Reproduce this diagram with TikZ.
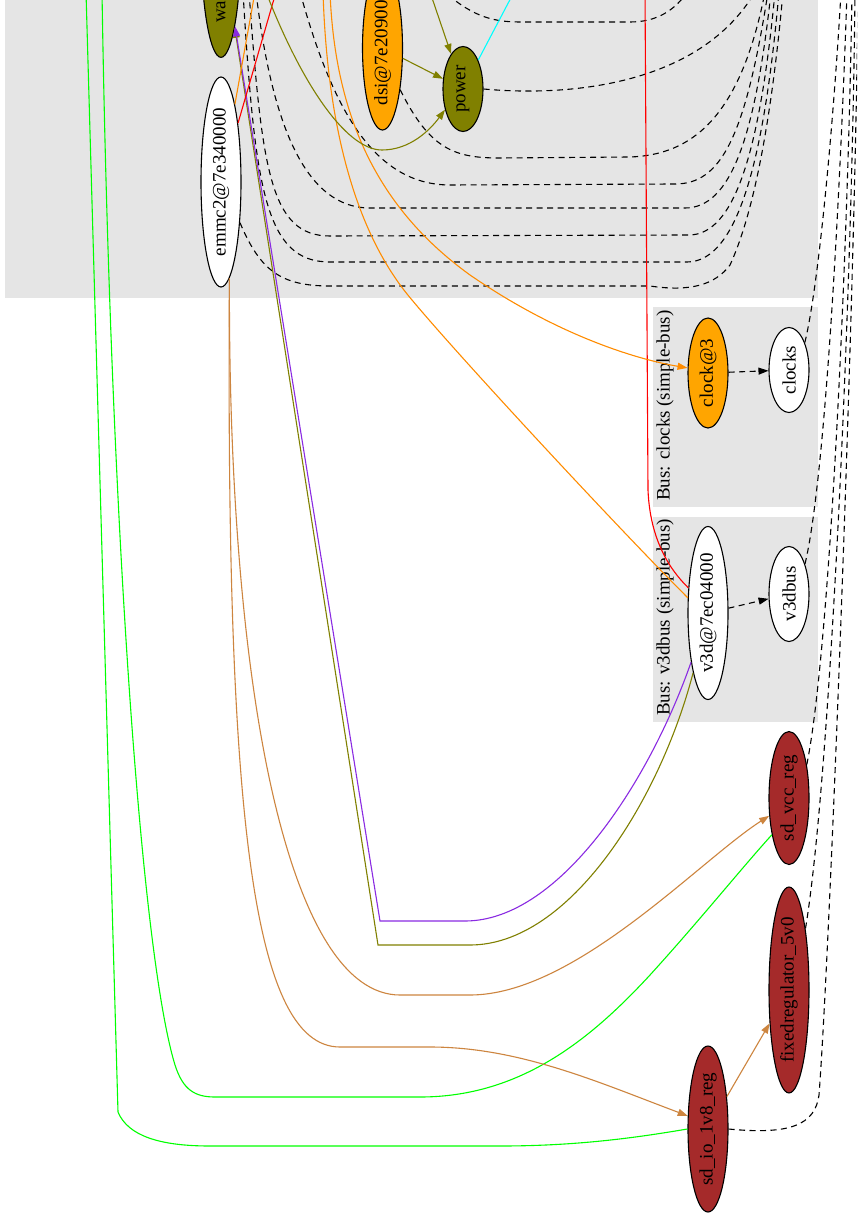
\documentclass[tikz,border=0pt]{standalone}
\usepackage{fontspec}
\setmainfont{Liberation Serif}
\usepackage{graphicx}
\usetikzlibrary{arrows.meta,shapes.geometric}

\definecolor{clusterbg}{HTML}{E5E5E5}
\definecolor{olivefill}{HTML}{808000}
\definecolor{orangefill}{HTML}{FFA500}
\definecolor{regfill}{HTML}{A52A2A}
\definecolor{edgeorange}{HTML}{FF8C00}
\definecolor{edgepurple}{HTML}{8A2BE2}
\definecolor{edgebrown}{HTML}{CD853F}
\definecolor{edgegreen}{HTML}{00FF00}
\definecolor{edgecyan}{HTML}{00FFFF}
\definecolor{edgered}{HTML}{FF0000}

\tikzset{
  dev/.style={ellipse, draw=black, line width=1.1pt, inner sep=0pt,
    minimum width=40pt, font=\fontsize{19pt}{23pt}\selectfont},
  plaindev/.style={dev, fill=white},
  pwrdev/.style={dev, fill=olivefill},
  clkdev/.style={dev, fill=orangefill},
  regdev/.style={dev, fill=regfill},
  buslabel/.style={rotate=90, anchor=west, inner sep=0pt,
    font=\fontsize{19pt}{23pt}\selectfont},
  wire/.style={line width=1.1pt},
  arr/.style={-{Triangle[length=10pt,width=7pt]}},
  busdep/.style={wire, draw=black, dash pattern=on 6pt off 4.5pt},
  eorange/.style={wire, draw=edgeorange},
  epurple/.style={wire, draw=edgepurple},
  ebrown/.style={wire, draw=edgebrown},
  egreen/.style={wire, draw=edgegreen},
  ecyan/.style={wire, draw=edgecyan},
  ered/.style={wire, draw=edgered},
  eolive/.style={wire, draw=olivefill},
}
\newcommand{\vlabel}[1]{\rotatebox{90}{#1}}

\begin{document}
\begin{tikzpicture}[x=1pt,y=-1pt]
\useasboundingbox (0,0) rectangle (857,1214);
\fill[white] (0,0) rectangle (857,1214);
\clip (0,0) rectangle (857,1214);

% bus clusters
\fill[clusterbg] (5,-20) rectangle (818,298);
\fill[clusterbg] (653,307) rectangle (818,507);
\fill[clusterbg] (653,517) rectangle (818,722);
\node[buslabel] (lblclocks) at (665,501) {Bus: clocks (simple-bus)};
\node[buslabel] (lblv3d) at (665,716) {Bus: v3dbus (simple-bus)};

% devices
\node[pwrdev, minimum height=228pt] (wa) at (221,-60) {\vlabel{\makebox[166pt][l]{wa}}};
\node[plaindev, minimum height=210pt] (emmc2) at (221,182) {\vlabel{emmc2@7e340000}};
\node[clkdev, minimum height=164pt] (dsi) at (382.5,48) {\vlabel{dsi@7e209000}};
\node[pwrdev, minimum height=85pt] (power) at (463,89) {\vlabel{power}};
\node[clkdev, minimum height=110pt] (clock3) at (708,373) {\vlabel{clock@3}};
\node[plaindev, minimum height=85pt] (clocks) at (789,370) {\vlabel{clocks}};
\node[plaindev, minimum height=173pt] (v3d) at (708,613) {\vlabel{v3d@7ec04000}};
\node[plaindev, minimum height=95pt] (v3dbus) at (789,594) {\vlabel{v3dbus}};
\node[regdev, minimum height=133pt] (sdvcc) at (789,798) {\vlabel{sd\_vcc\_reg}};
\node[regdev, minimum height=204pt] (fixed) at (789,990) {\vlabel{fixedregulator\_5v0}};
\node[regdev, minimum height=166pt] (sdio) at (708,1129) {\vlabel{sd\_io\_1v8\_reg}};

% far ends of edges leaving the view
\coordinate (g1top) at (86,-8);
\coordinate (g2top) at (102,-8);
\coordinate (redtop) at (276,-8);
\coordinate (orgtop) at (255,-8);
\coordinate (olvtop) at (266,-8);
\coordinate (olv2top) at (430,-8);
\coordinate (cyantop) at (514,-8);
\coordinate (otopA) at (330,-8);
\coordinate (otopB) at (323,-8);
\coordinate (rtop) at (645,-8);
\coordinate (d1a) at (440,-12);
\coordinate (d1b) at (690,-12);
\coordinate (d2b) at (755,-8);
\coordinate (d3b) at (765,-8);
\coordinate (d4a) at (300,-8);
\coordinate (d4b) at (768,-8);
\coordinate (d5a) at (256,-8);
\coordinate (d5b) at (771,-8);
\coordinate (d6a) at (249,-8);
\coordinate (d6b) at (775,-8);
\coordinate (d7a) at (243,-8);
\coordinate (d7b) at (779,-8);
\coordinate (d8b) at (783,-8);
\coordinate (r1) at (841,-8);
\coordinate (r2) at (847,-8);
\coordinate (r3) at (852,-8);
\coordinate (r4) at (855,-8);
\coordinate (r5) at (858,-8);

% dashed bus links
\draw[busdep] (d1a) .. controls (470,15) and (490,22) .. (520,22) -- (630,22) .. controls (655,22) and (675,12) .. (d1b);
\draw[busdep] (power.east) .. controls (570,97) and (700,85) .. (d2b);
\draw[busdep] (dsi.-67) .. controls (430,150) and (455,158) .. (500,158) -- (630,157) .. controls (690,155) and (740,120) .. (d3b);
\draw[busdep] (d4a) .. controls (330,100) and (370,185) .. (450,185) -- (675,184) .. controls (720,184) and (745,140) .. (d4b);
\draw[busdep] (d5a) .. controls (270,110) and (300,208) .. (370,208) -- (685,208) .. controls (730,208) and (755,140) .. (d5b);
\draw[busdep] (d6a) .. controls (262,170) and (270,236) .. (330,236) -- (688,235) .. controls (735,236) and (760,150) .. (d6b);
\draw[busdep] (d7a) .. controls (255,190) and (265,262) .. (330,262) -- (687,262) .. controls (740,262) and (765,150) .. (d7b);
\draw[busdep] (emmc2.-65) .. controls (260,270) and (280,286) .. (330,286) -- (650,286) .. controls (690,292) and (715,285) .. (730,265) .. controls (760,200) and (775,80) .. (d8b);
\draw[busdep] (clocks.60) .. controls (820,280) and (835,100) .. (r1);
\draw[busdep] (v3dbus.62) .. controls (825,480) and (840,200) .. (r2);
\draw[busdep] (sdvcc.62) .. controls (830,650) and (848,250) .. (r3);
\draw[busdep] (fixed.75) .. controls (830,780) and (852,300) .. (r4);
\draw[busdep] (sdio.east) .. controls (790,1135) and (815,1125) .. (819,1095) .. controls (830,950) and (855,300) .. (r5);
\draw[busdep, arr] (clock3) -- (clocks);
\draw[busdep, arr] (v3d) -- (v3dbus);

% supplies, clocks, power domains
\draw[egreen] (g1top) -- (118,1112) .. controls (128,1136) and (160,1146) .. (210,1146) -- (500,1146) .. controls (580,1146) and (640,1137) .. (sdio.west);
\draw[egreen] (g2top) .. controls (110,500) and (140,950) .. (175,1065) .. controls (183,1090) and (195,1097) .. (215,1097) -- (420,1097) .. controls (520,1097) and (590,1040) .. (650,975) .. controls (700,920) and (740,870) .. (sdvcc.245);
\draw[ebrown, arr] (emmc2.-85) .. controls (228,700) and (290,995) .. (400,995) -- (470,995) .. controls (575,995) and (700,860) .. (sdvcc.222);
\draw[ebrown, arr] (emmc2.-85) .. controls (226,800) and (250,1047) .. (340,1047) -- (430,1047) .. controls (520,1047) and (600,1083) .. (sdio.147);
\draw[ebrown, arr] (sdio) -- (fixed);
\draw[eolive, arr] (v3d.-104) .. controls (660,800) and (570,945) .. (470,945) -- (378,945) -- (wa);
\draw[epurple, arr] (v3d.-109) .. controls (650,780) and (560,921) .. (465,921) -- (380,921) -- (wa);
\draw[ered] (rtop) -- (648,490) .. controls (650,540) and (670,570) .. (v3d.128);
\draw[ered] (emmc2) -- (redtop);
\draw[eorange] (emmc2) -- (orgtop);
\draw[eorange, arr] (otopA) .. controls (335,120) and (380,210) .. (470,275) .. controls (560,337) and (640,360) .. (clock3.166);
\draw[eorange] (otopB) .. controls (328,150) and (365,245) .. (412,300) .. controls (462,360) and (620,530) .. (v3d.143);
\draw[eolive, arr] (olvtop) .. controls (300,80) and (345,150) .. (382,150) .. controls (410,150) and (430,130) .. (power.229);
\draw[eolive, arr] (olv2top) -- (power);
\draw[eolive, arr] (dsi) -- (power);
\draw[ecyan] (power) -- (cyantop);
\end{tikzpicture}
\end{document}
